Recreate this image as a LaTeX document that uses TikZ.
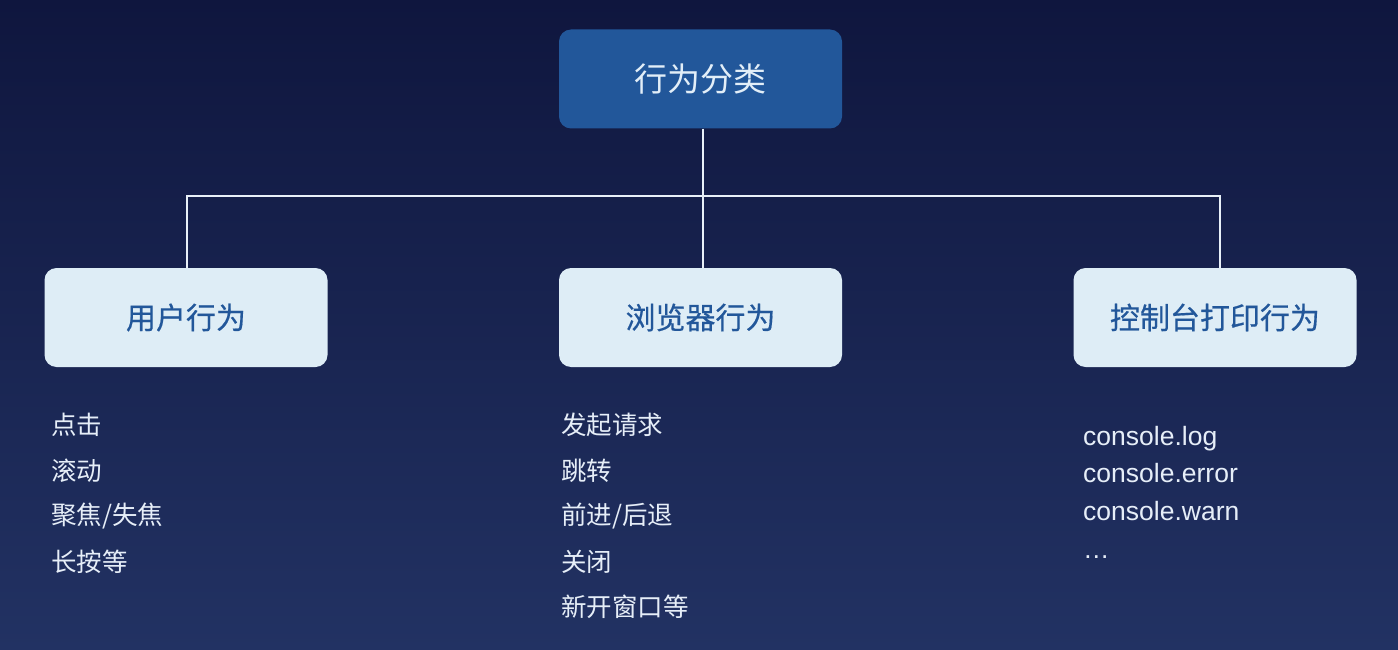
\documentclass[tikz,border=0pt]{standalone}
\usepackage{fontspec}
\setmainfont{Liberation Sans}
\newfontfamily\cjk{Noto Sans CJK SC}
\newfontfamily\cjkb[FakeBold=0.5]{Noto Sans CJK SC}
\definecolor{bgtop}{HTML}{0F163E}
\definecolor{bgbot}{HTML}{223263}
\definecolor{topfill}{HTML}{22579A}
\definecolor{topfg}{HTML}{E2EEF8}
\definecolor{childfill}{HTML}{DEEDF6}
\definecolor{childfg}{HTML}{22579A}
\definecolor{listfg}{HTML}{E6EEF8}
\definecolor{linecol}{HTML}{E8F0F8}
\tikzset{
  rootbox/.style={rounded corners=12pt, fill=topfill, minimum width=283pt, minimum height=99pt, inner sep=0pt, text=topfg, font=\cjk\fontsize{33}{38}\selectfont},
  childbox/.style={rounded corners=12pt, fill=childfill, minimum width=283pt, minimum height=99pt, inner sep=0pt, text=childfg, font=\cjkb\fontsize{30}{35}\selectfont},
  listcn/.style={anchor=west, inner sep=0pt, text=listfg, font=\cjk\fontsize{25.5}{30}\selectfont},
  listen/.style={anchor=base west, inner sep=0pt, text=listfg, font=\fontsize{26.5}{30}\selectfont},
  conn/.style={draw=linecol, line width=2pt}
}
\begin{document}
\begin{tikzpicture}[x=1pt,y=1pt]
\useasboundingbox (0,0) rectangle (1398,-650);
\shade[top color=bgtop, bottom color=bgbot] (0,0) rectangle (1398,-650);

\node[rootbox] (root) at (700.5,-79) {行为分类};
\node[childbox] (user) at (186,-317.5) {用户行为};
\node[childbox] (browser) at (700.5,-317.5) {浏览器行为};
\node[childbox] (console) at (1215,-317.5) {控制台打印行为};

\coordinate (j) at (703,-196);
\draw[conn] (root.south -| j) -- (j);
\draw[conn] (user.north -| 187,0) |- (j) -| (console.north -| 1220,0);
\draw[conn] (j) -- (browser.north -| j);

\node[listcn] (u1) at (51,-425) {点击};
\node[listcn] (u2) at (51,-470.5) {滚动};
\node[listcn] (u3) at (51,-516) {聚焦/失焦};
\node[listcn] (u4) at (51,-561.5) {长按等};

\node[listcn] (b1) at (561,-425) {发起请求};
\node[listcn] (b2) at (561,-470.5) {跳转};
\node[listcn] (b3) at (561,-516) {前进/后退};
\node[listcn] (b4) at (561,-561.5) {关闭};
\node[listcn] (b5) at (561,-607) {新开窗口等};

\node[listen] (c1) at (1083,-445) {console.log};
\node[listen] (c2) at (1083,-482) {console.error};
\node[listen] (c3) at (1083,-520) {console.warn};
\node[listen] (c4) at (1083,-558) {…};
\end{tikzpicture}
\end{document}
